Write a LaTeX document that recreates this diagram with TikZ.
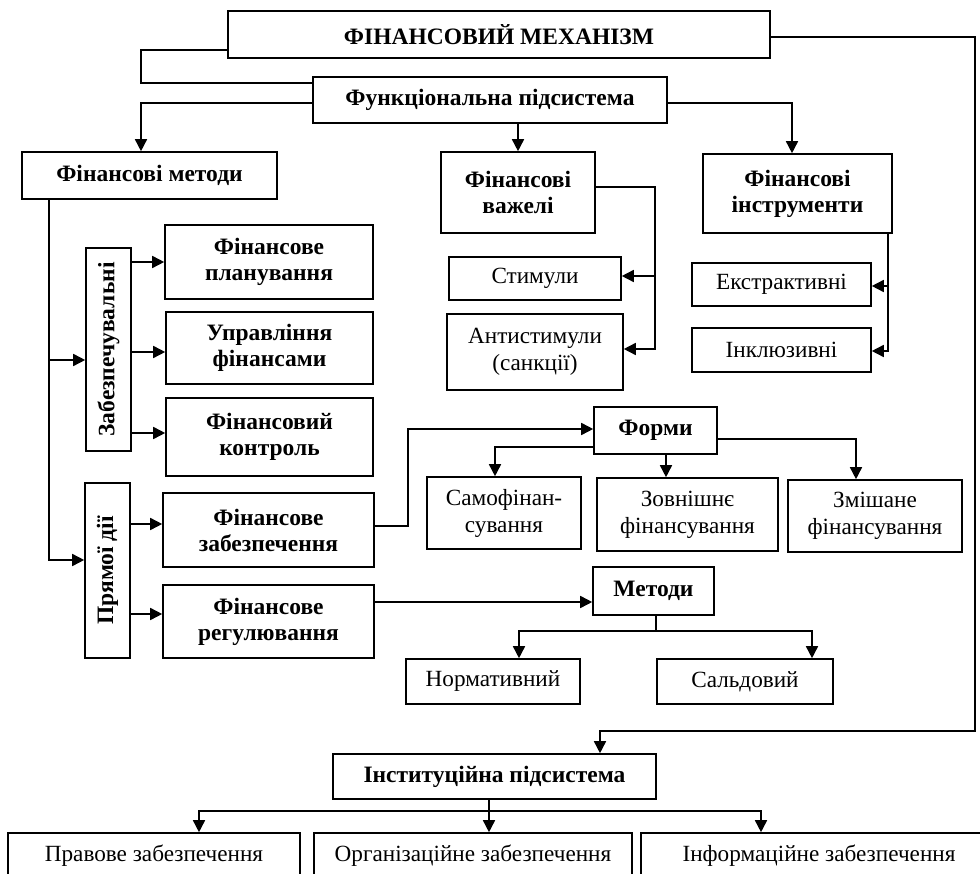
\documentclass[tikz,border=0pt]{standalone}
\usepackage{fontspec}
\setmainfont{Liberation Serif}
\usetikzlibrary{arrows.meta}

\tikzset{
  box/.style={draw, line width=1.6pt, inner sep=0pt, align=center,
    font=\bfseries\fontsize{23.5}{26}\selectfont},
  plain/.style={box, font=\fontsize{23.2}{27}\selectfont},
  vtext/.style={rotate=90, font=\bfseries\fontsize{23.5}{26}\selectfont},
  conn/.style={line width=1.6pt},
  arr/.style={conn, -{Triangle[length=12pt,width=12pt]}},
}

\begin{document}
\begin{tikzpicture}[x=1pt, y=-1pt]
\useasboundingbox (0,0) rectangle (980,874);
\fill[white] (0,0) rectangle (980,874);
\clip (0,0) rectangle (980,874);

% top level
\node[box, minimum width=542pt, minimum height=47pt] (mech) at (499,34.5) {ФІНАНСОВИЙ МЕХАНІЗМ};
\node[box, minimum width=354pt, minimum height=46pt] (func) at (490,100) {Функціональна підсистема};

% functional subsystem
\node[box, minimum width=255pt, minimum height=47pt] (methods) at (149.5,175.5) {Фінансові методи};
\node[box, minimum width=154pt, minimum height=81pt] (levers) at (518,192.5) {Фінансові\\важелі};
\node[box, minimum width=189pt, minimum height=79pt] (instr) at (797.5,193.5) {Фінансові\\інструменти};

\node[plain, minimum width=172pt, minimum height=43pt] (stim) at (535,278.5) {Стимули};
\node[plain, minimum width=176pt, minimum height=76pt] (anti) at (535,352) {Антистимули\\(санкції)};
\node[plain, minimum width=179pt, minimum height=43pt] (extr) at (781.5,284.5) {Екстрактивні};
\node[plain, minimum width=179pt, minimum height=44pt] (incl) at (781.5,350) {Інклюзивні};

% groups of financial methods
\node[box, minimum width=45pt, minimum height=203pt] (zab) at (108.5,349.5) {};
\node[vtext] at (zab) {Забезпечувальні};
\node[box, minimum width=45pt, minimum height=175pt] (pryam) at (107.5,570.5) {};
\node[vtext] at (pryam) {Прямої дії};

\node[box, minimum width=208pt, minimum height=74pt] (plan) at (269,262) {Фінансове\\планування};
\node[box, minimum width=207pt, minimum height=72pt] (upr) at (269.5,348) {Управління\\фінансами};
\node[box, minimum width=207pt, minimum height=78pt] (ctrl) at (269.5,437) {Фінансовий\\контроль};
\node[box, minimum width=211pt, minimum height=74pt] (zabezp) at (268.5,530) {Фінансове\\забезпечення};
\node[box, minimum width=211pt, minimum height=73pt] (reg) at (268.5,621.5) {Фінансове\\регулювання};

% forms of financing
\node[box, minimum width=123pt, minimum height=47pt] (forms) at (655.5,430.5) {Форми};
\node[plain, minimum width=154pt, minimum height=72pt] (self) at (504,513) {Самофінан-\\сування};
\node[plain, minimum width=181pt, minimum height=73pt] (ext) at (687.5,514.5) {Зовнішнє\\фінансування};
\node[plain, minimum width=174pt, minimum height=72pt] (mixed) at (875,516) {Змішане\\фінансування};

% regulation methods
\node[box, minimum width=121pt, minimum height=48pt] (meth2) at (653.5,591) {Методи};
\node[plain, minimum width=174pt, minimum height=45pt] (norm) at (493,681.5) {Нормативний};
\node[plain, minimum width=176pt, minimum height=45pt] (saldo) at (745,681.5) {Сальдовий};

% institutional subsystem
\node[box, minimum width=323pt, minimum height=45pt] (inst) at (494.5,776.5) {Інституційна підсистема};
\node[plain, minimum width=292pt, minimum height=46pt] (legal) at (154,856) {Правове забезпечення};
\node[plain, minimum width=318pt, minimum height=46pt] (org) at (473,856) {Організаційне забезпечення};
\node[plain, minimum width=356pt, minimum height=46pt] (info) at (819,856) {Інформаційне забезпечення};

% connectors
\draw[conn] (mech.west |- 0,50) -| (141,83) -- (func.west |- 0,83);
\draw[arr] (mech.east |- 0,37) -| (975,731) -| (inst.north -| 600,0);

\draw[arr] (func.west |- 0,103) -| (methods.north -| 141,0);
\draw[arr] (func.south -| levers.north) -- (levers.north);
\draw[arr] (func.east |- 0,103) -| (instr.north -| 792,0);

\draw[arr] (levers.east |- 0,187) -| (655,349) -- (anti.east |- 0,349);
\draw[arr] (655,276) -- (stim.east |- 0,276);

\draw[arr] (instr.south -| 888,0) |- (incl.east |- 0,351);
\draw[arr] (888,286) -- (extr.east |- 0,286);

\draw[arr] (methods.south -| 49,0) |- (pryam.west |- 0,560);
\draw[arr] (49,360) -- (zab.west |- 0,360);

\draw[arr] (zab.east |- 0,262) -- (plan.west |- 0,262);
\draw[arr] (zab.east |- 0,352) -- (upr.west |- 0,352);
\draw[arr] (zab.east |- 0,433) -- (ctrl.west |- 0,433);
\draw[arr] (pryam.east |- 0,524) -- (zabezp.west |- 0,524);
\draw[arr] (pryam.east |- 0,614) -- (reg.west |- 0,614);

\draw[arr] (zabezp.east |- 0,526) -| (408,429) -- (forms.west |- 0,429);
\draw[arr] (forms.west |- 0,447) -| (self.north -| 495,0);
\draw[arr] (forms.south -| 666,0) -- (ext.north -| 666,0);
\draw[arr] (forms.east |- 0,439) -| (mixed.north -| 856,0);

\draw[arr] (reg.east |- 0,602) -- (meth2.west |- 0,602);
\draw[arr] (meth2.south -| 656,0) -- (656,631) -| (norm.north -| 519,0);
\draw[arr] (656,631) -| (saldo.north -| 812,0);

\draw[arr] (inst.south -| 489,0) -- (org.north -| 489,0);
\draw[arr] (489,811) -| (legal.north -| 199,0);
\draw[arr] (489,811) -| (info.north -| 761,0);
\end{tikzpicture}
\end{document}
